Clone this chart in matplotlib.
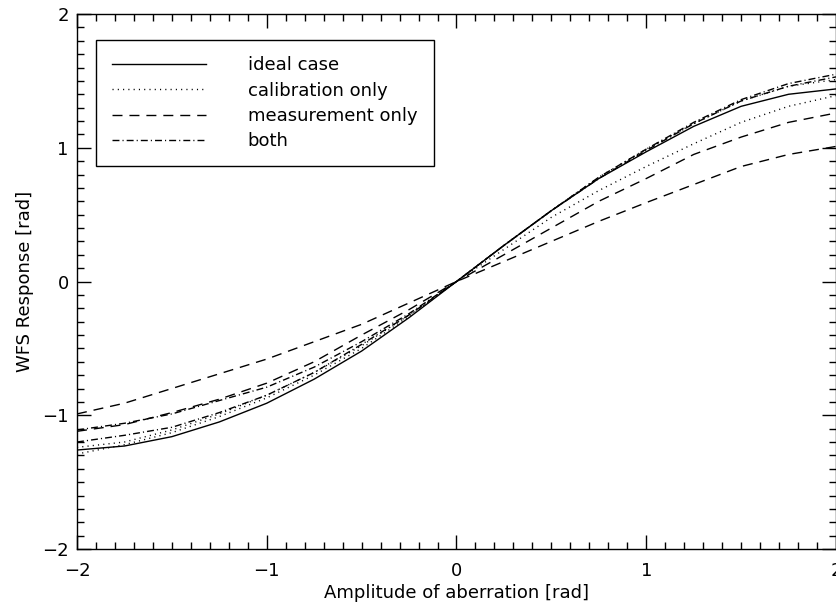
import numpy as np
import matplotlib
matplotlib.use('Agg')
import matplotlib.pyplot as plt
from matplotlib.ticker import MultipleLocator

# amplitude of aberration [rad]
amp = np.array([-2, -1.75, -1.5, -1.25, -1, -0.75, -0.5, -0.25, 0,
                0.25, 0.5, 0.75, 1, 1.25, 1.5, 1.75, 2])

# WFS response [rad]
ideal = np.array([-1.26, -1.23, -1.16, -1.05, -0.91, -0.73, -0.52, -0.27, 0,
                  0.27, 0.53, 0.77, 0.97, 1.16, 1.31, 1.40, 1.44])
calib_a = np.array([-1.29, -1.22, -1.13, -1.01, -0.87, -0.70, -0.50, -0.26, 0,
                    0.27, 0.53, 0.78, 0.99, 1.18, 1.35, 1.46, 1.51])
calib_b = np.array([-1.24, -1.20, -1.11, -0.99, -0.85, -0.68, -0.48, -0.25, 0,
                    0.24, 0.48, 0.68, 0.86, 1.03, 1.19, 1.31, 1.39])
meas_a = np.array([-1.12, -1.07, -0.98, -0.88, -0.76, -0.60, -0.40, -0.21, 0,
                   0.20, 0.40, 0.60, 0.77, 0.95, 1.08, 1.19, 1.26])
meas_b = np.array([-0.99, -0.91, -0.80, -0.69, -0.58, -0.45, -0.32, -0.16, 0,
                   0.15, 0.30, 0.45, 0.59, 0.725, 0.86, 0.95, 1.01])
both_a = np.array([-1.11, -1.06, -0.99, -0.89, -0.79, -0.64, -0.45, -0.24, 0,
                   0.27, 0.53, 0.78, 0.99, 1.19, 1.36, 1.48, 1.55])
both_b = np.array([-1.20, -1.15, -1.09, -0.98, -0.85, -0.68, -0.47, -0.25, 0,
                   0.27, 0.53, 0.77, 0.98, 1.18, 1.35, 1.46, 1.53])

labels = ['ideal case', 'calibration only', 'measurement only', 'both']

dotted = (0, (0.8, 3.0))
dashed = (0, (7.2, 5.0))
dashdot = (0, (5.0, 2.2, 0.8, 2.2))

plt.rcParams['font.family'] = ['DejaVu Sans']
plt.rcParams['font.size'] = 13

fig = plt.figure(figsize=(8.37, 6.10), dpi=100)
ax = fig.add_axes([0.092, 0.1, 0.9068, 0.877])

lw = 1.0
ax.plot(amp, ideal, color='black', lw=lw, ls='-', label=labels[0])
ax.plot(amp, calib_a, color='black', lw=lw, ls=dotted, label=labels[1])
ax.plot(amp, calib_b, color='black', lw=lw, ls=dotted)
ax.plot(amp, meas_a, color='black', lw=lw, ls=dashed, label=labels[2])
ax.plot(amp, meas_b, color='black', lw=lw, ls=dashed)
ax.plot(amp, both_a, color='black', lw=lw, ls=dashdot, label=labels[3])
ax.plot(amp, both_b, color='black', lw=lw, ls=dashdot)

ax.set_xlim(-2, 2)
ax.set_ylim(-2, 2)
ax.xaxis.set_major_locator(MultipleLocator(1))
ax.yaxis.set_major_locator(MultipleLocator(1))
ax.xaxis.set_minor_locator(MultipleLocator(0.1))
ax.yaxis.set_minor_locator(MultipleLocator(0.1))
ax.tick_params(which='both', direction='in', top=True, right=True, width=1)
ax.tick_params(which='major', length=10)
ax.tick_params(which='minor', length=5)
ax.tick_params(axis='x', pad=9)
ax.tick_params(axis='y', pad=6)
for s in ax.spines.values():
    s.set_linewidth(1)

ax.set_xlabel('Amplitude of aberration [rad]', labelpad=3)
ax.set_ylabel('WFS Response [rad]', labelpad=6)

leg = ax.legend(loc='upper left', bbox_to_anchor=(0.025, 0.951), borderaxespad=0,
                handlelength=5.2, handletextpad=2.3, labelspacing=0.4,
                borderpad=0.9, fancybox=False, edgecolor='black', framealpha=1)
leg.get_frame().set_linewidth(1)

fig.savefig('out.png', dpi=100)
